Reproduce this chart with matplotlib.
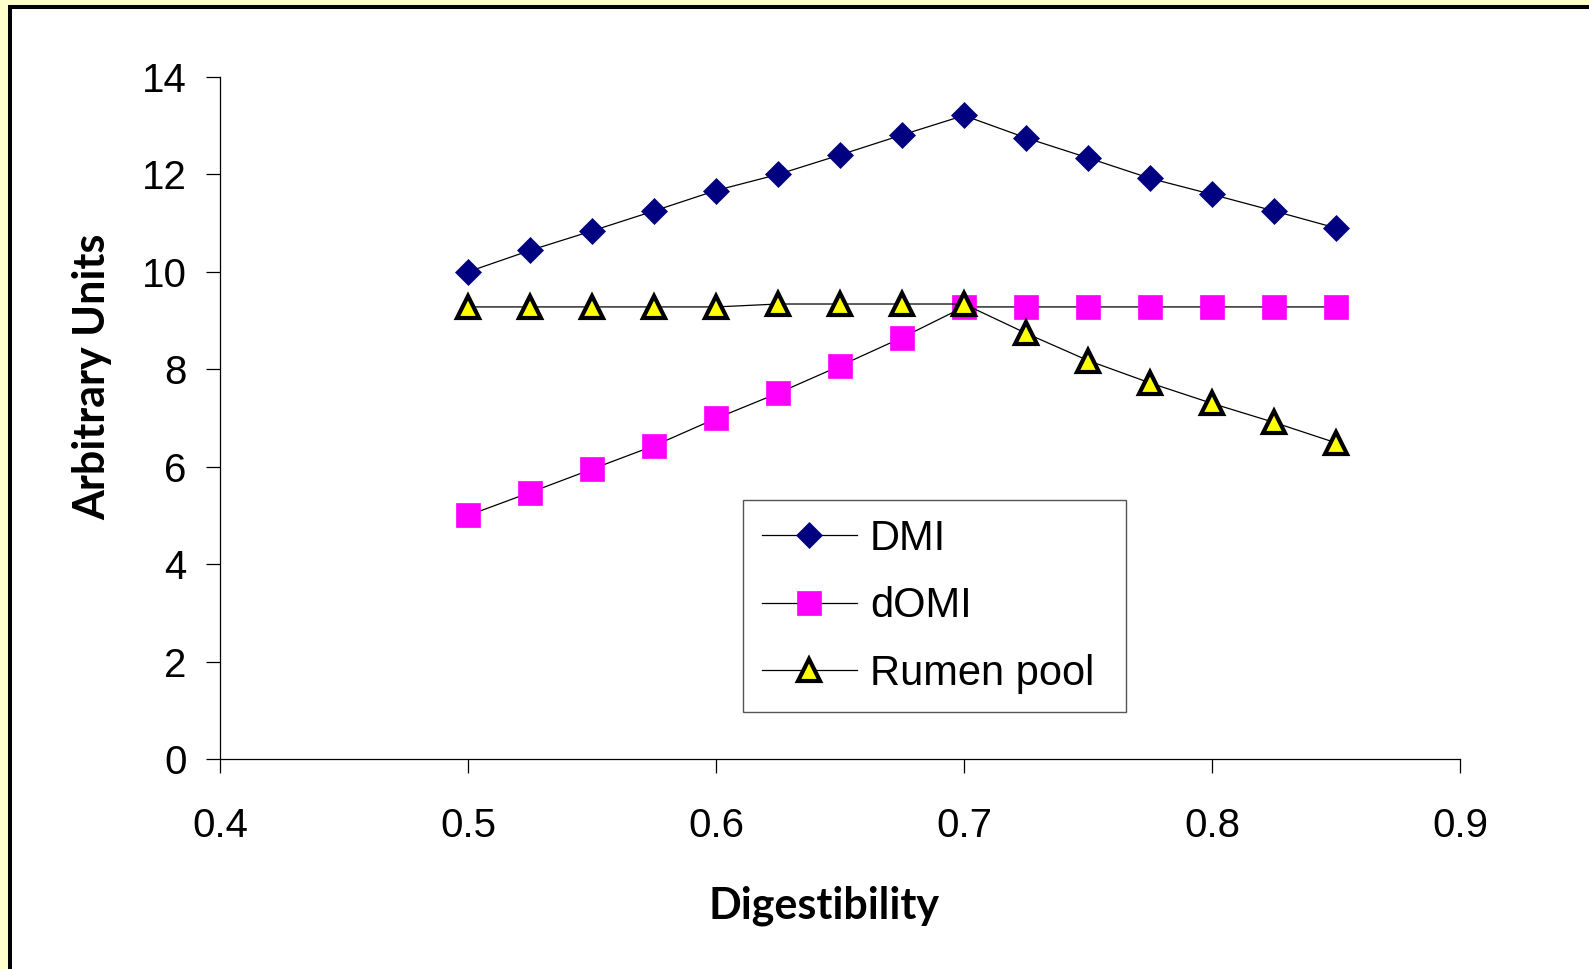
import matplotlib
matplotlib.use('Agg')
import matplotlib.pyplot as plt
from matplotlib.patches import Rectangle

digestibility = [0.5, 0.525, 0.55, 0.575, 0.6, 0.625, 0.65, 0.675, 0.7,
                 0.725, 0.75, 0.775, 0.8, 0.825, 0.85]
dmi = [10.0, 10.44, 10.84, 11.25, 11.67, 12.0, 12.4, 12.81, 13.21,
       12.75, 12.34, 11.92, 11.59, 11.25, 10.9]
domi = [5.0, 5.47, 5.95, 6.43, 6.99, 7.51, 8.07, 8.65, 9.28,
        9.28, 9.28, 9.28, 9.28, 9.28, 9.28]
rumen_pool = [9.28, 9.28, 9.28, 9.28, 9.28, 9.34, 9.34, 9.34, 9.34,
              8.74, 8.18, 7.72, 7.30, 6.91, 6.49]

plt.rcParams['font.family'] = ['Liberation Sans', 'DejaVu Sans']

W, H = 1589, 969
fig = plt.figure(figsize=(W / 100, H / 100), dpi=100, facecolor='#FFFFCC')
# white panel with black frame on left/top, yellow margin outside
fig.add_artist(Rectangle((10 / W, -0.05), 1.1, 1 - 7 / H + 0.05,
                         transform=fig.transFigure, facecolor='white',
                         edgecolor='black', linewidth=2.9, zorder=0))

ax = fig.add_axes([220 / W, 1 - 759 / H, 1240 / W, 682 / H])
ax.set_facecolor('none')

ax.plot(digestibility, dmi, color='black', lw=0.9, marker='D', ms=13,
        mfc='#000080', mec='#000080', mew=0.5, label='DMI', zorder=3)
ax.plot(digestibility, domi, color='black', lw=0.9, marker='s', ms=17.5,
        mfc='#FF00FF', mec='#FF00FF', mew=0.5, label='dOMI', zorder=3)
ax.plot(digestibility, rumen_pool, color='black', lw=0.9, marker='^', ms=15.5,
        mfc='#FFFF00', mec='black', mew=3, label='Rumen pool', zorder=4)

ax.set_xlim(0.4, 0.9)
ax.set_ylim(0, 14)
ax.set_xticks([0.4, 0.5, 0.6, 0.7, 0.8, 0.9])
ax.set_yticks(range(0, 15, 2))
for s in ['top', 'right']:
    ax.spines[s].set_visible(False)
for s in ['left', 'bottom']:
    ax.spines[s].set_linewidth(0.9)
ax.tick_params(direction='out', length=10, width=0.9, labelsize=29)
ax.tick_params(axis='x', pad=24.5)
ax.tick_params(axis='y', pad=14)

ax.set_xlabel('Digestibility', fontsize=31, fontweight='bold',
              family=['Lato', 'DejaVu Sans'])
ax.set_ylabel('Arbitrary Units', fontsize=31, fontweight='bold',
              family=['Lato', 'DejaVu Sans'])
ax.xaxis.set_label_coords(0.487, -0.185)
ax.yaxis.set_label_coords(-0.087, 0.56)

leg = ax.legend(loc='lower left', bbox_to_anchor=(0.4216, 0.0684, 0.3088, 0.3),
                mode='expand', fontsize=30,
                fancybox=False, edgecolor='#555555', framealpha=1,
                borderpad=0.45, labelspacing=0.66, handlelength=2.3,
                handletextpad=0.3, borderaxespad=0)
leg.get_frame().set_linewidth(1.0)

fig.savefig('out.png', dpi=100, facecolor=fig.get_facecolor())
